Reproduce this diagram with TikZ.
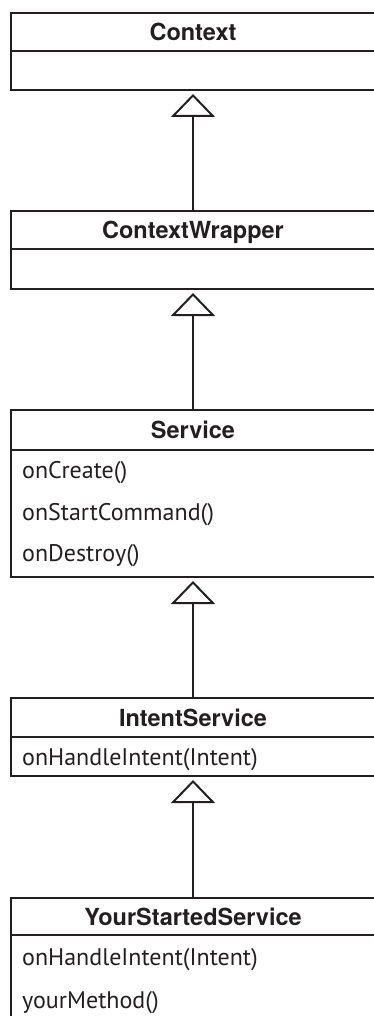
\documentclass[tikz,border=0pt]{standalone}
\usepackage{fontspec}
\usepackage{xcolor}
\usetikzlibrary{
  arrows.meta,
  positioning
}
\definecolor{LineDark}{HTML}{231F20}
\newfontfamily\classfont{TeX Gyre Heros}
\newfontfamily\memberfont{PT Sans}
\tikzset{
  classname/.style={
    draw=LineDark,
    line width=2pt,
    fill=white,
    anchor=north west,
    minimum width=364pt,
    minimum height=38pt,
    inner sep=0pt,
    text height=17pt,
    text depth=0pt,
    text=LineDark,
    font=\classfont\bfseries\fontsize{23.5}{28}\selectfont
  },
  classbody/.style={
    draw=LineDark,
    line width=2pt,
    anchor=north west,
    minimum width=364pt,
    inner sep=0pt
  },
  member/.style={
    anchor=base west,
    inner sep=0pt,
    text=LineDark,
    font=\memberfont\fontsize{24}{28}\selectfont
  },
  inherit/.style={
    -{Triangle[open,length=23pt,width=44pt]},
    line width=2pt,
    draw=LineDark,
    shorten >=3pt
  }
}
\begin{document}
\begin{tikzpicture}[x=1pt,y=-1pt]

  \useasboundingbox (0,0) rectangle (374,1016);

  % Context
  \node[classname] (context) at (10,12) {Context};
  \node[
    classbody,
    minimum height=39pt
  ] (contextbody) at (10,50) {};

  % ContextWrapper
  \node[classname] (wrapper) at (10,210) {ContextWrapper};
  \node[
    classbody,
    minimum height=40pt
  ] (wrapperbody) at (10,248) {};

  % Service
  \node[classname, minimum height=40pt] (service) at (10,409) {Service};
  \node[
    classbody,
    minimum height=127pt
  ] (servicebody) at (10,449) {};
  \node[member] (oncreate) at (22,478) {onCreate()};
  \node[member] (onstart) at (22,520) {onStartCommand()};
  \node[member] (ondestroy) at (22,561) {onDestroy()};

  % IntentService
  \node[classname, minimum height=39pt] (intentservice) at (10,697) {IntentService};
  \node[
    classbody,
    minimum height=39pt
  ] (intentbody) at (10,736) {};
  \node[member] (onhandle) at (22,765) {onHandleIntent(Intent)};

  % YourStartedService
  \node[classname, minimum height=37pt] (started) at (10,897) {YourStartedService};
  \node[
    classbody,
    minimum height=86pt
  ] (startedbody) at (10,934) {};
  \node[member] (startedhandle) at (22,965) {onHandleIntent(Intent)};
  \node[member] (yourmethod) at (22,1008) {yourMethod()};

  % generalisation
  \draw[inherit] (wrapper.north) -- (contextbody.south);
  \draw[inherit] (service.north) -- (wrapperbody.south);
  \draw[inherit] (intentservice.north) -- (servicebody.south);
  \draw[inherit] (started.north) -- (intentbody.south);

\end{tikzpicture}
\end{document}
